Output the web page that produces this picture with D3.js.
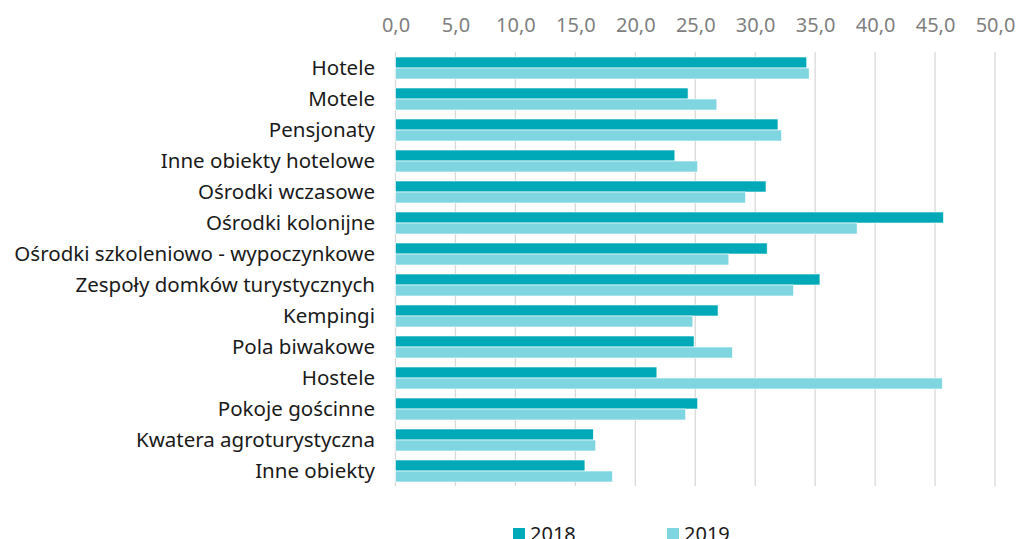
<!DOCTYPE html>
<html>
<head>
<meta charset="utf-8">
<script src="https://cdn.jsdelivr.net/npm/d3@7"></script>
<style>
  body { margin: 0; background: #fff; }
  svg { display: block; font-family: "Noto Sans", sans-serif; }
</style>
</head>
<body>
<svg id="chart" width="1016" height="539"></svg>
<script>
var categories = ["Hotele", "Motele", "Pensjonaty", "Inne obiekty hotelowe", "Ośrodki wczasowe",
    "Ośrodki kolonijne", "Ośrodki szkoleniowo - wypoczynkowe", "Zespoły domków turystycznych",
    "Kempingi", "Pola biwakowe", "Hostele", "Pokoje gościnne", "Kwatera agroturystyczna", "Inne obiekty"];
var values2018 = [34.3, 24.4, 31.9, 23.3, 30.9, 45.7, 31.0, 35.4, 26.9, 24.9, 21.8, 25.2, 16.5, 15.8];
var values2019 = [34.5, 26.8, 32.2, 25.2, 29.2, 38.5, 27.8, 33.2, 24.8, 28.1, 45.6, 24.2, 16.7, 18.1];
var seriesNames = ["2018", "2019"];
var colors = ["#00a9b8", "#80d6e0"];
var tickValues = [0, 5, 10, 15, 20, 25, 30, 35, 40, 45, 50];

var svg = d3.select("#chart");

var x = d3.scaleLinear().domain([0, 50]).range([395.5, 995]);
var y = d3.scaleBand().domain(categories).range([52.5, 486.5])
    .paddingInner(0.29).paddingOuter(0.145);
var sub = d3.scaleBand().domain(seriesNames).range([0, y.bandwidth()]);

// gridlines
svg.append("g")
    .selectAll("line")
    .data(tickValues)
    .join("line")
    .attr("x1", function(d) { return x(d); })
    .attr("x2", function(d) { return x(d); })
    .attr("y1", 52)
    .attr("y2", 486)
    .attr("stroke", "#d9d9d9")
    .attr("stroke-width", 1.3);

// top axis labels
var xAxis = svg.append("g")
    .attr("transform", "translate(0,31.5)")
    .call(d3.axisTop(x).tickValues(tickValues).tickSize(0).tickPadding(0)
        .tickFormat(function(d) { return d3.format(".1f")(d).replace(".", ","); }));
xAxis.select(".domain").remove();
xAxis.selectAll("text")
    .attr("fill", "#7f7f7f")
    .style("font-size", "20px")
    .style("font-family", "\"Noto Sans\", sans-serif");

// category labels
var yAxis = svg.append("g")
    .attr("transform", "translate(375,0)")
    .call(d3.axisLeft(y).tickSize(0).tickPadding(0));
yAxis.select(".domain").remove();
yAxis.selectAll("text")
    .attr("fill", "#1a1a1a")
    .style("font-size", "20.5px")
    .style("font-family", "\"Noto Sans\", sans-serif");

// bars
var rows = categories.map(function(c, i) {
    return { cat: c, vals: [values2018[i], values2019[i]] };
});

var groups = svg.append("g")
    .selectAll("g")
    .data(rows)
    .join("g")
    .attr("transform", function(d) { return "translate(0," + y(d.cat) + ")"; });

groups.selectAll("rect")
    .data(function(d) {
        return d.vals.map(function(v, j) { return { key: seriesNames[j], v: v, j: j }; });
    })
    .join("rect")
    .attr("x", x(0))
    .attr("y", function(d) { return sub(d.key); })
    .attr("width", function(d) { return x(d.v) - x(0); })
    .attr("height", sub.bandwidth())
    .attr("fill", function(d) { return colors[d.j]; })
    .attr("stroke", "#fff")
    .attr("stroke-width", 0.6);

// legend
var legendX = [513, 667];
var legend = svg.append("g")
    .selectAll("g")
    .data(seriesNames)
    .join("g")
    .attr("transform", function(d, i) { return "translate(" + legendX[i] + ",528)"; });

legend.append("rect")
    .attr("width", 12)
    .attr("height", 12)
    .attr("fill", function(d, i) { return colors[i]; });

legend.append("text")
    .attr("x", 17)
    .attr("y", 12.5)
    .attr("fill", "#1a1a1a")
    .style("font-size", "20px")
    .text(function(d) { return d; });
</script>
</body>
</html>
